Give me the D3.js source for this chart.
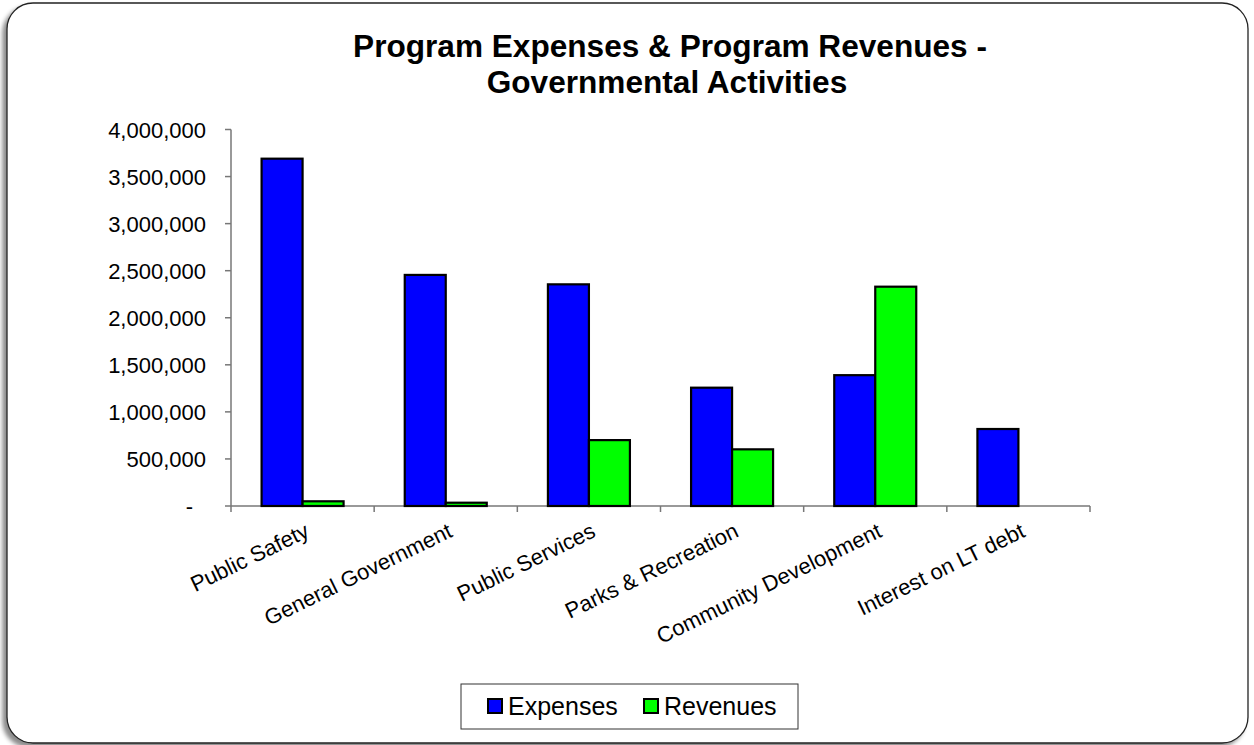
<!DOCTYPE html>
<html>
<head>
<meta charset="utf-8">
<script src="https://cdn.jsdelivr.net/npm/d3@7"></script>
<style>
  body { margin: 0; background: #fff; }
  svg { display: block; }
  text { font-family: "Liberation Sans", Arial, Helvetica, sans-serif; }
</style>
</head>
<body>
<svg id="chart" width="1254" height="745"></svg>
<script>
var categories = ["Public Safety", "General Government", "Public Services",
  "Parks & Recreation", "Community Development", "Interest on LT debt"];
var seriesNames = ["Expenses", "Revenues"];
var expenses = [3690000, 2455000, 2355000, 1257000, 1390000, 818000];
var revenues = [50000, 35000, 700000, 602000, 2330000, 0];
var yTicks = [0, 500000, 1000000, 1500000, 2000000, 2500000, 3000000, 3500000, 4000000];
var seriesColors = ["#0000FF", "#00FF00"];

var svg = d3.select("#chart");

var defs = svg.append("defs");
var shadow = defs.append("filter")
  .attr("id", "frameShadow")
  .attr("x", "-5%").attr("y", "-5%")
  .attr("width", "110%").attr("height", "110%");
shadow.append("feDropShadow")
  .attr("dx", -4).attr("dy", 4)
  .attr("stdDeviation", 2)
  .attr("flood-color", "#000")
  .attr("flood-opacity", 0.45);

// rounded frame
svg.append("rect")
  .attr("x", 7).attr("y", 3)
  .attr("width", 1241).attr("height", 740)
  .attr("rx", 26).attr("ry", 26)
  .style("fill", "#fff")
  .style("stroke", "#222")
  .style("stroke-width", 1.3)
  .attr("filter", "url(#frameShadow)");

// title
var title = svg.append("text")
  .attr("x", 670).attr("y", 57)
  .style("text-anchor", "middle")
  .style("font-weight", "bold")
  .style("font-size", "31.6px");
title.append("tspan").attr("x", 670).text("Program Expenses & Program Revenues -");
title.append("tspan").attr("x", 667).attr("dy", 36).text("Governmental Activities");

var margin = { left: 231, right: 1090, top: 129.5, bottom: 506 };

var y = d3.scaleLinear()
  .domain([0, 4000000])
  .range([margin.bottom, margin.top]);

var x = d3.scaleBand()
  .domain(categories)
  .range([margin.left, margin.right])
  .padding(0);

var x1 = d3.scaleBand()
  .domain(seriesNames)
  .range([0, x.bandwidth()])
  .paddingInner(0)
  .paddingOuter(0.746);

var axisColor = "#777";

// y axis
var yAxis = svg.append("g").attr("class", "yAxis");
yAxis.append("line")
  .attr("x1", margin.left).attr("x2", margin.left)
  .attr("y1", y(4000000)).attr("y2", y(0))
  .style("stroke", axisColor).style("stroke-width", 1.5);
yAxis.selectAll(".tick")
  .data(yTicks)
  .enter().append("line")
  .attr("x1", margin.left - 6).attr("x2", margin.left)
  .attr("y1", function (d) { return y(d); })
  .attr("y2", function (d) { return y(d); })
  .style("stroke", axisColor).style("stroke-width", 1.5);
yAxis.selectAll(".lbl")
  .data(yTicks)
  .enter().append("text")
  .attr("x", function (d) { return d == 0 ? 193 : 206; })
  .attr("y", function (d) { return y(d) + 8; })
  .style("text-anchor", "end")
  .style("font-size", "22px")
  .style("fill", "#000")
  .text(function (d) { return d == 0 ? "-" : d3.format(",")(d); });

// x axis
var xAxis = svg.append("g").attr("class", "xAxis");
xAxis.append("line")
  .attr("x1", margin.left).attr("x2", margin.right)
  .attr("y1", y(0)).attr("y2", y(0))
  .style("stroke", axisColor).style("stroke-width", 1.5);
var xTickPos = categories.map(function (c) { return x(c); }).concat([margin.right]);
xAxis.selectAll(".tick")
  .data(xTickPos)
  .enter().append("line")
  .attr("x1", function (d) { return d; })
  .attr("x2", function (d) { return d; })
  .attr("y1", y(0)).attr("y2", y(0) + 6)
  .style("stroke", axisColor).style("stroke-width", 1.5);

// bars
var groups = svg.append("g").attr("class", "bars")
  .selectAll("g")
  .data(categories)
  .enter().append("g")
  .attr("transform", function (d) { return "translate(" + x(d) + ",0)"; });

groups.selectAll("rect")
  .data(function (d, i) {
    return [
      { name: "Expenses", value: expenses[i] },
      { name: "Revenues", value: revenues[i] }
    ].filter(function (e) { return e.value > 0; });
  })
  .enter().append("rect")
  .attr("x", function (d) { return x1(d.name); })
  .attr("width", x1.bandwidth())
  .attr("y", function (d) { return y(d.value); })
  .attr("height", function (d) { return y(0) - y(d.value); })
  .style("fill", function (d) { return seriesColors[seriesNames.indexOf(d.name)]; })
  .style("stroke", "#000")
  .style("stroke-width", 2.2);

// category labels
svg.append("g").attr("class", "xLabels")
  .selectAll("text")
  .data(categories)
  .enter().append("text")
  .attr("transform", function (d) {
    var cx = x(d) + x.bandwidth() / 2 + 8;
    var cy = y(0) + 30;
    return "translate(" + cx + "," + cy + ") rotate(-26)";
  })
  .style("text-anchor", "end")
  .style("font-size", "22px")
  .text(function (d) { return d; });

// legend
var legend = svg.append("g").attr("class", "legend");
legend.append("rect")
  .attr("x", 461).attr("y", 684)
  .attr("width", 337).attr("height", 45)
  .style("fill", "#fff")
  .style("stroke", "#333")
  .style("stroke-width", 1);
var legendX = [488, 644];
var legendItem = legend.selectAll(".item")
  .data(seriesNames)
  .enter().append("g")
  .attr("transform", function (d, i) { return "translate(" + legendX[i] + ",699)"; });
legendItem.append("rect")
  .attr("width", 14).attr("height", 14)
  .style("fill", function (d, i) { return seriesColors[i]; })
  .style("stroke", "#000")
  .style("stroke-width", 2);
legendItem.append("text")
  .attr("x", 20).attr("y", 16)
  .style("font-size", "25px")
  .text(function (d) { return d; });
</script>
</body>
</html>
